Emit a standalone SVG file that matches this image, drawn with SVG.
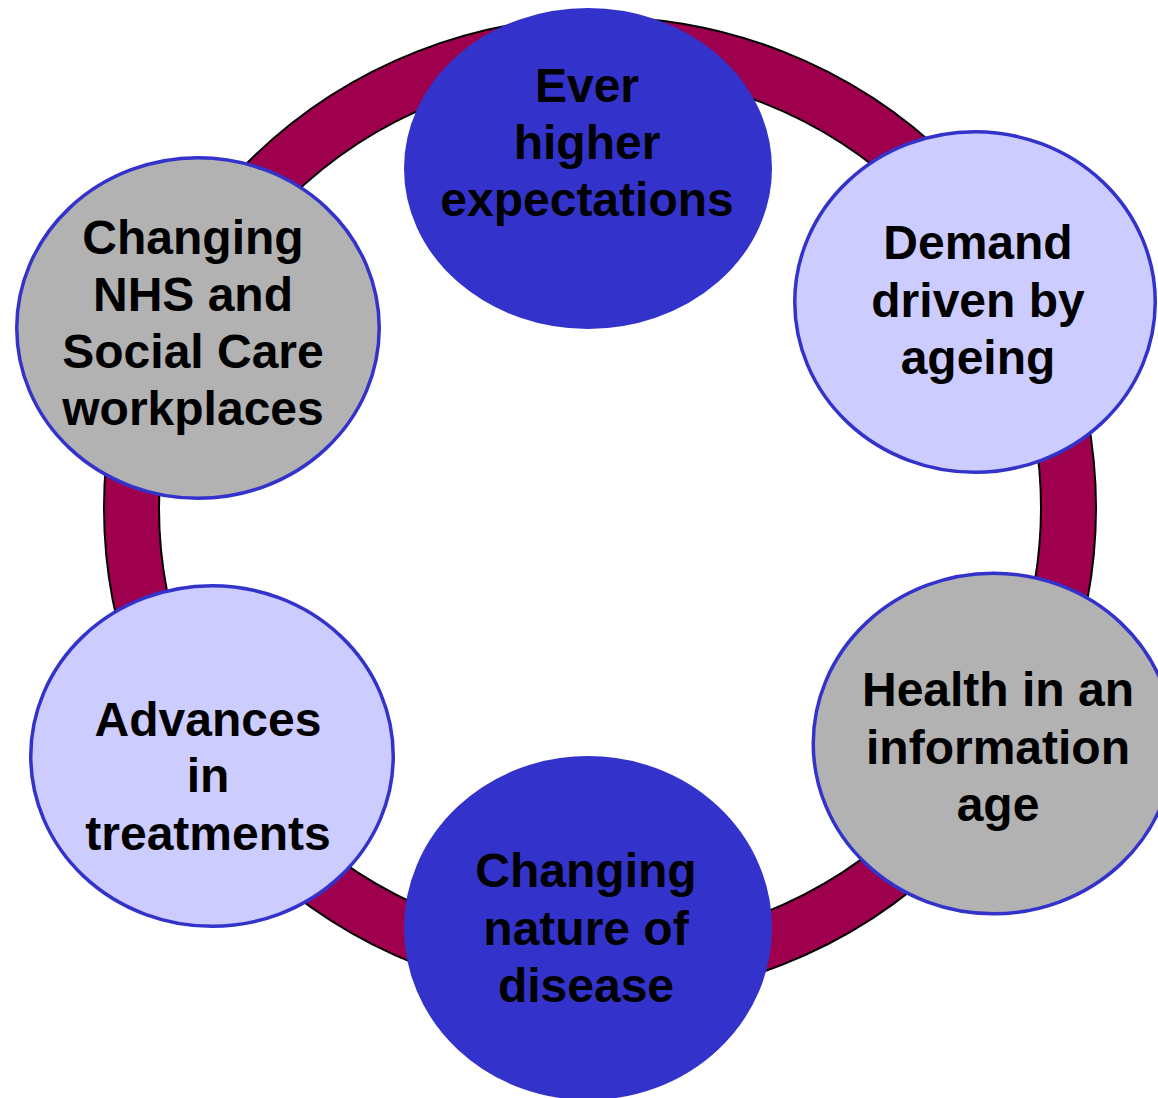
<svg xmlns="http://www.w3.org/2000/svg" width="1158" height="1098" viewBox="0 0 1158 1098">
  <style>
    .label { font-family: "Liberation Sans", Arial, sans-serif; font-weight: bold; font-size: 48px; fill: #000000; text-anchor: middle; }
    .dark { fill: #3333CC; stroke: #3333CC; stroke-width: 3.5; }
    .light { fill: #CCCCFF; stroke: #3333CC; stroke-width: 3.5; }
    .grey { fill: #B2B2B2; stroke: #3333CC; stroke-width: 3.5; }
  </style>
  <rect x="0" y="0" width="1158" height="1098" fill="#ffffff"/>

  <!-- connecting ring: black edged maroon band -->
  <g id="connectors">
    <ellipse cx="600" cy="508" rx="468.5" ry="463.5" fill="none" stroke="#000000" stroke-width="57"/>
    <ellipse cx="600" cy="508" rx="468.5" ry="463.5" fill="none" stroke="#9E004E" stroke-width="53"/>
  </g>

  <g id="node-expectations">
    <ellipse class="dark" cx="588" cy="168.5" rx="182.25" ry="158.75"/>
    <text class="label" x="587" y="102">Ever</text>
    <text class="label" x="587" y="159">higher</text>
    <text class="label" x="587" y="216">expectations</text>
  </g>

  <g id="node-ageing">
    <ellipse class="light" cx="975" cy="302" rx="180.25" ry="170.25"/>
    <text class="label" x="978" y="259">Demand</text>
    <text class="label" x="978" y="317">driven by</text>
    <text class="label" x="978" y="374">ageing</text>
  </g>

  <g id="node-information">
    <ellipse class="grey" cx="993.5" cy="743.5" rx="180.25" ry="170.25"/>
    <text class="label" x="998" y="706">Health in an</text>
    <text class="label" x="998" y="764">information</text>
    <text class="label" x="998" y="821">age</text>
  </g>

  <g id="node-disease">
    <ellipse class="dark" cx="588" cy="928" rx="182.25" ry="170.25"/>
    <text class="label" x="586" y="887">Changing</text>
    <text class="label" x="586" y="945">nature of</text>
    <text class="label" x="586" y="1002">disease</text>
  </g>

  <g id="node-treatments">
    <ellipse class="light" cx="212" cy="756" rx="181.25" ry="170.25"/>
    <text class="label" x="208" y="736">Advances</text>
    <text class="label" x="208" y="792">in</text>
    <text class="label" x="208" y="850">treatments</text>
  </g>

  <g id="node-workplaces">
    <ellipse class="grey" cx="198" cy="328" rx="181.25" ry="170.25"/>
    <text class="label" x="193" y="254">Changing</text>
    <text class="label" x="193" y="311">NHS and</text>
    <text class="label" x="193" y="368">Social Care</text>
    <text class="label" x="193" y="425">workplaces</text>
  </g>
</svg>
